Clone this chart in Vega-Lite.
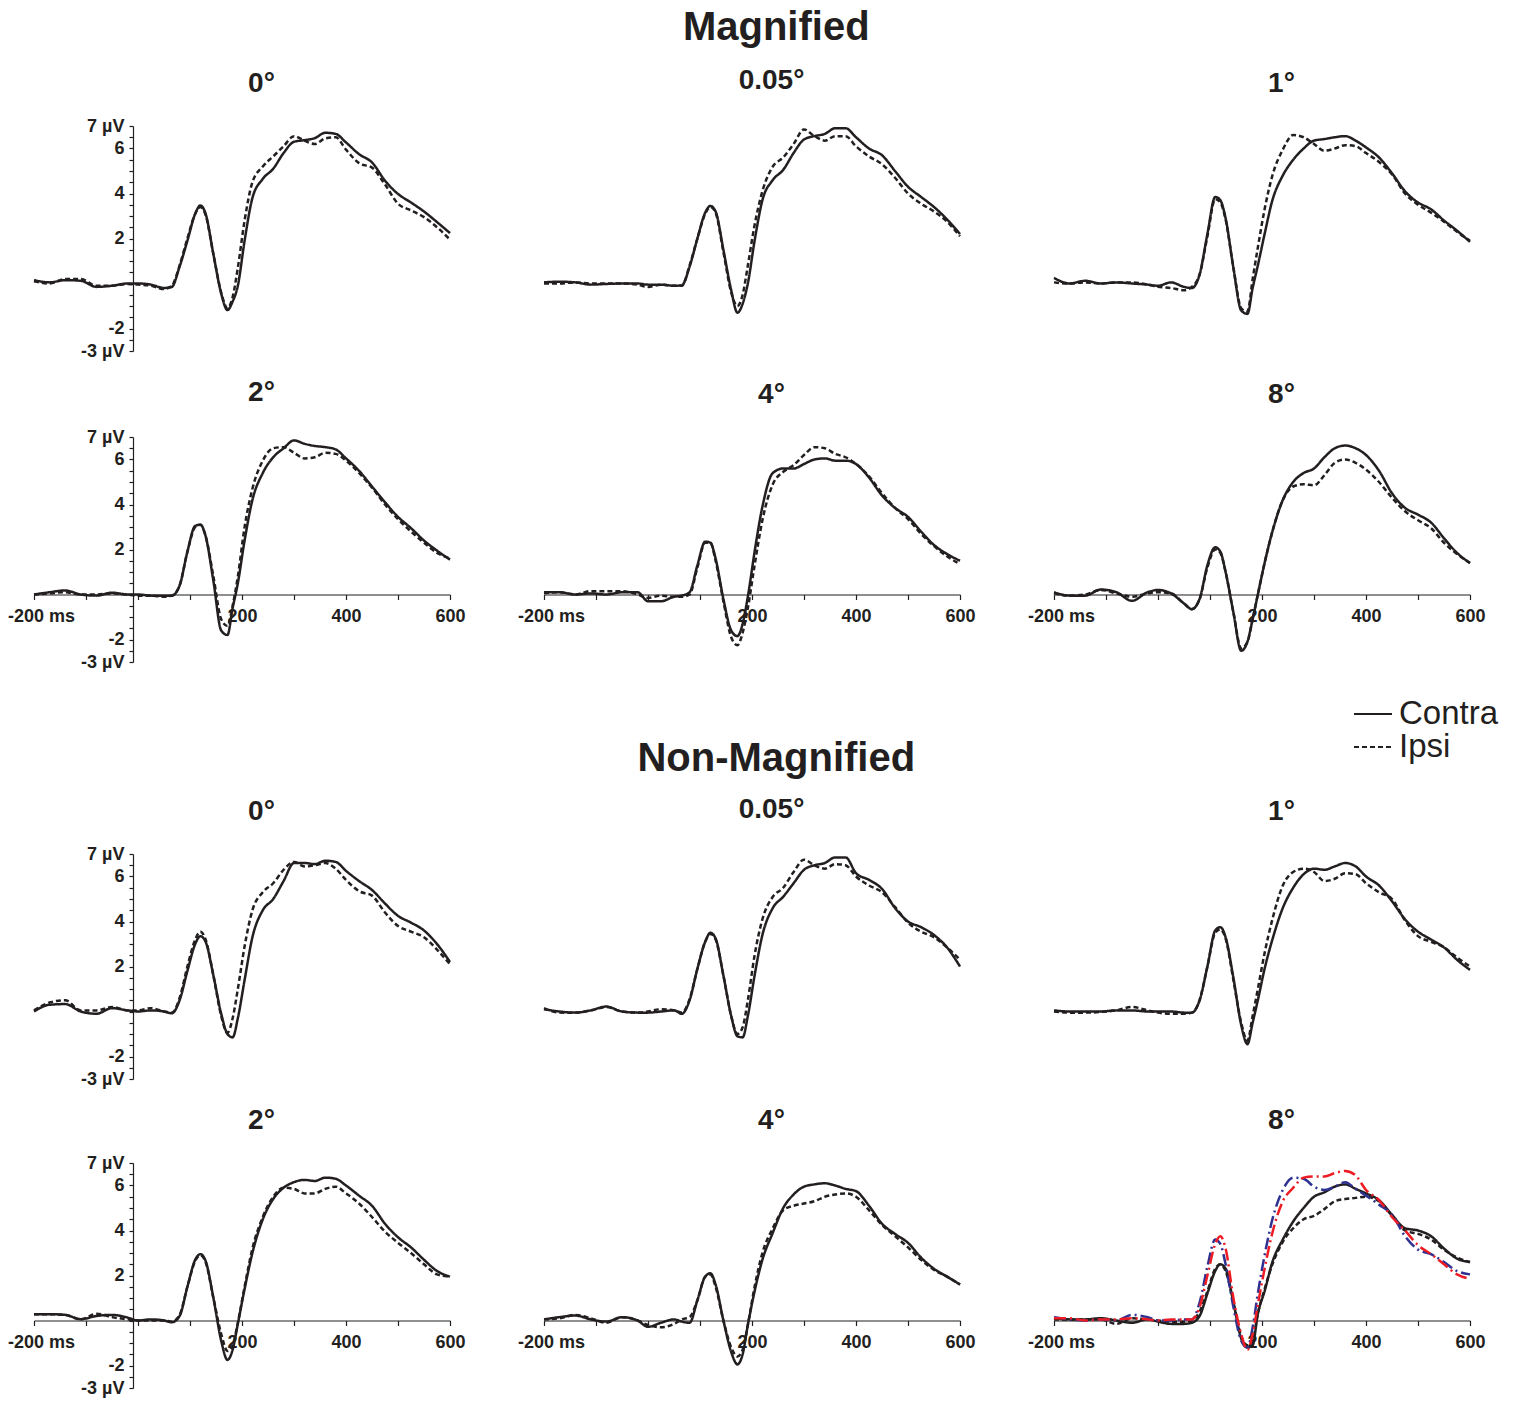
{
"$schema": "https://vega.github.io/schema/vega-lite/v6.json",
"background": "white",
"padding": {"left": 7, "top": 8, "right": 2, "bottom": 2},
"spacing": 68,
"config": {"view": {"stroke": null}, "font": "Liberation Sans"},
"data": {"values": [
{"s":"M","p":"0°","t":-200,"Contra":0.15,"Ipsi":0.1},{"s":"M","p":"0°","t":-170,"Contra":0.05,"Ipsi":0.0},{"s":"M","p":"0°","t":-140,"Contra":0.15,"Ipsi":0.2},{"s":"M","p":"0°","t":-110,"Contra":0.12,"Ipsi":0.2},{"s":"M","p":"0°","t":-80,"Contra":-0.15,"Ipsi":-0.1},{"s":"M","p":"0°","t":-50,"Contra":-0.1,"Ipsi":-0.1},{"s":"M","p":"0°","t":-20,"Contra":0.0,"Ipsi":-0.02},{"s":"M","p":"0°","t":0,"Contra":0.0,"Ipsi":-0.05},{"s":"M","p":"0°","t":25,"Contra":-0.05,"Ipsi":-0.1},{"s":"M","p":"0°","t":50,"Contra":-0.2,"Ipsi":-0.25},{"s":"M","p":"0°","t":65,"Contra":-0.15,"Ipsi":-0.1},{"s":"M","p":"0°","t":80,"Contra":0.75,"Ipsi":0.8},{"s":"M","p":"0°","t":95,"Contra":1.9,"Ipsi":2.0},{"s":"M","p":"0°","t":110,"Contra":3.1,"Ipsi":3.1},{"s":"M","p":"0°","t":120,"Contra":3.47,"Ipsi":3.4},{"s":"M","p":"0°","t":130,"Contra":3.1,"Ipsi":3.05},{"s":"M","p":"0°","t":145,"Contra":1.3,"Ipsi":1.3},{"s":"M","p":"0°","t":160,"Contra":-0.45,"Ipsi":-0.4},{"s":"M","p":"0°","t":172,"Contra":-1.18,"Ipsi":-1.1},{"s":"M","p":"0°","t":182,"Contra":-0.8,"Ipsi":-0.6},{"s":"M","p":"0°","t":192,"Contra":-0.1,"Ipsi":0.7},{"s":"M","p":"0°","t":205,"Contra":1.9,"Ipsi":2.8},{"s":"M","p":"0°","t":220,"Contra":3.8,"Ipsi":4.5},{"s":"M","p":"0°","t":240,"Contra":4.65,"Ipsi":5.2},{"s":"M","p":"0°","t":260,"Contra":5.1,"Ipsi":5.65},{"s":"M","p":"0°","t":280,"Contra":5.8,"Ipsi":6.1},{"s":"M","p":"0°","t":300,"Contra":6.3,"Ipsi":6.55},{"s":"M","p":"0°","t":320,"Contra":6.37,"Ipsi":6.35},{"s":"M","p":"0°","t":340,"Contra":6.46,"Ipsi":6.2},{"s":"M","p":"0°","t":360,"Contra":6.7,"Ipsi":6.45},{"s":"M","p":"0°","t":380,"Contra":6.65,"Ipsi":6.5},{"s":"M","p":"0°","t":400,"Contra":6.27,"Ipsi":5.95},{"s":"M","p":"0°","t":425,"Contra":5.75,"Ipsi":5.35},{"s":"M","p":"0°","t":450,"Contra":5.38,"Ipsi":5.15},{"s":"M","p":"0°","t":475,"Contra":4.57,"Ipsi":4.4},{"s":"M","p":"0°","t":500,"Contra":3.98,"Ipsi":3.55},{"s":"M","p":"0°","t":525,"Contra":3.6,"Ipsi":3.25},{"s":"M","p":"0°","t":550,"Contra":3.2,"Ipsi":2.95},{"s":"M","p":"0°","t":575,"Contra":2.73,"Ipsi":2.5},{"s":"M","p":"0°","t":600,"Contra":2.24,"Ipsi":1.95},
{"s":"M","p":"0.05°","t":-200,"Contra":0.05,"Ipsi":0.0},{"s":"M","p":"0.05°","t":-170,"Contra":0.08,"Ipsi":0.0},{"s":"M","p":"0.05°","t":-140,"Contra":0.05,"Ipsi":0.05},{"s":"M","p":"0.05°","t":-110,"Contra":-0.05,"Ipsi":0.0},{"s":"M","p":"0.05°","t":-80,"Contra":-0.02,"Ipsi":0.0},{"s":"M","p":"0.05°","t":-50,"Contra":0.0,"Ipsi":0.0},{"s":"M","p":"0.05°","t":-20,"Contra":0.0,"Ipsi":-0.05},{"s":"M","p":"0.05°","t":0,"Contra":-0.05,"Ipsi":-0.15},{"s":"M","p":"0.05°","t":25,"Contra":-0.05,"Ipsi":-0.05},{"s":"M","p":"0.05°","t":50,"Contra":-0.1,"Ipsi":-0.1},{"s":"M","p":"0.05°","t":65,"Contra":-0.08,"Ipsi":-0.1},{"s":"M","p":"0.05°","t":80,"Contra":0.75,"Ipsi":0.8},{"s":"M","p":"0.05°","t":95,"Contra":2.0,"Ipsi":2.0},{"s":"M","p":"0.05°","t":110,"Contra":3.15,"Ipsi":3.1},{"s":"M","p":"0.05°","t":120,"Contra":3.45,"Ipsi":3.4},{"s":"M","p":"0.05°","t":130,"Contra":3.2,"Ipsi":3.15},{"s":"M","p":"0.05°","t":145,"Contra":1.5,"Ipsi":1.4},{"s":"M","p":"0.05°","t":160,"Contra":-0.3,"Ipsi":-0.4},{"s":"M","p":"0.05°","t":172,"Contra":-1.3,"Ipsi":-1.0},{"s":"M","p":"0.05°","t":182,"Contra":-0.9,"Ipsi":-0.5},{"s":"M","p":"0.05°","t":192,"Contra":0.0,"Ipsi":0.8},{"s":"M","p":"0.05°","t":205,"Contra":1.9,"Ipsi":2.6},{"s":"M","p":"0.05°","t":220,"Contra":3.7,"Ipsi":4.1},{"s":"M","p":"0.05°","t":240,"Contra":4.6,"Ipsi":5.2},{"s":"M","p":"0.05°","t":260,"Contra":5.05,"Ipsi":5.6},{"s":"M","p":"0.05°","t":280,"Contra":5.8,"Ipsi":6.2},{"s":"M","p":"0.05°","t":300,"Contra":6.4,"Ipsi":6.85},{"s":"M","p":"0.05°","t":320,"Contra":6.55,"Ipsi":6.55},{"s":"M","p":"0.05°","t":340,"Contra":6.65,"Ipsi":6.35},{"s":"M","p":"0.05°","t":360,"Contra":6.9,"Ipsi":6.55},{"s":"M","p":"0.05°","t":380,"Contra":6.9,"Ipsi":6.55},{"s":"M","p":"0.05°","t":400,"Contra":6.5,"Ipsi":6.1},{"s":"M","p":"0.05°","t":425,"Contra":6.0,"Ipsi":5.65},{"s":"M","p":"0.05°","t":450,"Contra":5.7,"Ipsi":5.3},{"s":"M","p":"0.05°","t":475,"Contra":5.0,"Ipsi":4.7},{"s":"M","p":"0.05°","t":500,"Contra":4.3,"Ipsi":4.0},{"s":"M","p":"0.05°","t":525,"Contra":3.85,"Ipsi":3.55},{"s":"M","p":"0.05°","t":550,"Contra":3.4,"Ipsi":3.2},{"s":"M","p":"0.05°","t":575,"Contra":2.85,"Ipsi":2.75},{"s":"M","p":"0.05°","t":600,"Contra":2.2,"Ipsi":2.1},
{"s":"M","p":"1°","t":-200,"Contra":0.25,"Ipsi":0.05},{"s":"M","p":"1°","t":-170,"Contra":0.0,"Ipsi":0.0},{"s":"M","p":"1°","t":-140,"Contra":0.12,"Ipsi":0.05},{"s":"M","p":"1°","t":-110,"Contra":0.0,"Ipsi":0.0},{"s":"M","p":"1°","t":-80,"Contra":0.05,"Ipsi":0.05},{"s":"M","p":"1°","t":-50,"Contra":0.0,"Ipsi":0.05},{"s":"M","p":"1°","t":-20,"Contra":-0.05,"Ipsi":-0.05},{"s":"M","p":"1°","t":0,"Contra":-0.1,"Ipsi":-0.15},{"s":"M","p":"1°","t":25,"Contra":0.05,"Ipsi":-0.2},{"s":"M","p":"1°","t":50,"Contra":-0.15,"Ipsi":-0.3},{"s":"M","p":"1°","t":65,"Contra":-0.2,"Ipsi":-0.15},{"s":"M","p":"1°","t":80,"Contra":0.4,"Ipsi":0.4},{"s":"M","p":"1°","t":95,"Contra":2.2,"Ipsi":2.1},{"s":"M","p":"1°","t":110,"Contra":3.85,"Ipsi":3.75},{"s":"M","p":"1°","t":120,"Contra":3.7,"Ipsi":3.6},{"s":"M","p":"1°","t":130,"Contra":2.9,"Ipsi":2.85},{"s":"M","p":"1°","t":145,"Contra":0.7,"Ipsi":0.7},{"s":"M","p":"1°","t":160,"Contra":-1.2,"Ipsi":-1.1},{"s":"M","p":"1°","t":172,"Contra":-1.35,"Ipsi":-1.25},{"s":"M","p":"1°","t":182,"Contra":-0.2,"Ipsi":0.2},{"s":"M","p":"1°","t":192,"Contra":0.8,"Ipsi":1.6},{"s":"M","p":"1°","t":205,"Contra":2.2,"Ipsi":3.3},{"s":"M","p":"1°","t":220,"Contra":3.7,"Ipsi":4.8},{"s":"M","p":"1°","t":240,"Contra":4.8,"Ipsi":5.95},{"s":"M","p":"1°","t":260,"Contra":5.5,"Ipsi":6.6},{"s":"M","p":"1°","t":280,"Contra":6.0,"Ipsi":6.5},{"s":"M","p":"1°","t":300,"Contra":6.35,"Ipsi":6.2},{"s":"M","p":"1°","t":320,"Contra":6.42,"Ipsi":5.9},{"s":"M","p":"1°","t":340,"Contra":6.5,"Ipsi":6.0},{"s":"M","p":"1°","t":360,"Contra":6.55,"Ipsi":6.15},{"s":"M","p":"1°","t":380,"Contra":6.35,"Ipsi":6.1},{"s":"M","p":"1°","t":400,"Contra":6.05,"Ipsi":5.8},{"s":"M","p":"1°","t":425,"Contra":5.6,"Ipsi":5.4},{"s":"M","p":"1°","t":450,"Contra":4.9,"Ipsi":4.85},{"s":"M","p":"1°","t":475,"Contra":4.1,"Ipsi":4.0},{"s":"M","p":"1°","t":500,"Contra":3.6,"Ipsi":3.5},{"s":"M","p":"1°","t":525,"Contra":3.3,"Ipsi":3.15},{"s":"M","p":"1°","t":550,"Contra":2.8,"Ipsi":2.75},{"s":"M","p":"1°","t":575,"Contra":2.35,"Ipsi":2.3},{"s":"M","p":"1°","t":600,"Contra":1.85,"Ipsi":1.9},
{"s":"M","p":"2°","t":-200,"Contra":0.0,"Ipsi":0.0},{"s":"M","p":"2°","t":-170,"Contra":0.1,"Ipsi":0.05},{"s":"M","p":"2°","t":-140,"Contra":0.18,"Ipsi":0.1},{"s":"M","p":"2°","t":-110,"Contra":0.0,"Ipsi":0.0},{"s":"M","p":"2°","t":-80,"Contra":-0.05,"Ipsi":0.0},{"s":"M","p":"2°","t":-50,"Contra":0.08,"Ipsi":0.05},{"s":"M","p":"2°","t":-20,"Contra":0.0,"Ipsi":0.0},{"s":"M","p":"2°","t":0,"Contra":0.0,"Ipsi":-0.05},{"s":"M","p":"2°","t":25,"Contra":-0.05,"Ipsi":-0.05},{"s":"M","p":"2°","t":50,"Contra":-0.05,"Ipsi":-0.1},{"s":"M","p":"2°","t":65,"Contra":-0.05,"Ipsi":-0.05},{"s":"M","p":"2°","t":80,"Contra":0.4,"Ipsi":0.4},{"s":"M","p":"2°","t":95,"Contra":1.9,"Ipsi":1.9},{"s":"M","p":"2°","t":110,"Contra":3.05,"Ipsi":3.0},{"s":"M","p":"2°","t":120,"Contra":3.1,"Ipsi":3.1},{"s":"M","p":"2°","t":130,"Contra":2.6,"Ipsi":2.6},{"s":"M","p":"2°","t":145,"Contra":0.6,"Ipsi":0.8},{"s":"M","p":"2°","t":160,"Contra":-1.6,"Ipsi":-1.1},{"s":"M","p":"2°","t":172,"Contra":-1.8,"Ipsi":-1.4},{"s":"M","p":"2°","t":182,"Contra":-0.6,"Ipsi":-0.5},{"s":"M","p":"2°","t":192,"Contra":0.5,"Ipsi":0.8},{"s":"M","p":"2°","t":205,"Contra":2.4,"Ipsi":3.0},{"s":"M","p":"2°","t":220,"Contra":4.2,"Ipsi":4.7},{"s":"M","p":"2°","t":240,"Contra":5.4,"Ipsi":5.95},{"s":"M","p":"2°","t":260,"Contra":6.1,"Ipsi":6.5},{"s":"M","p":"2°","t":280,"Contra":6.5,"Ipsi":6.55},{"s":"M","p":"2°","t":300,"Contra":6.85,"Ipsi":6.3},{"s":"M","p":"2°","t":320,"Contra":6.7,"Ipsi":6.05},{"s":"M","p":"2°","t":340,"Contra":6.6,"Ipsi":6.1},{"s":"M","p":"2°","t":360,"Contra":6.55,"Ipsi":6.3},{"s":"M","p":"2°","t":380,"Contra":6.45,"Ipsi":6.25},{"s":"M","p":"2°","t":400,"Contra":6.05,"Ipsi":5.95},{"s":"M","p":"2°","t":425,"Contra":5.5,"Ipsi":5.4},{"s":"M","p":"2°","t":450,"Contra":4.8,"Ipsi":4.75},{"s":"M","p":"2°","t":475,"Contra":4.1,"Ipsi":4.0},{"s":"M","p":"2°","t":500,"Contra":3.45,"Ipsi":3.35},{"s":"M","p":"2°","t":525,"Contra":2.95,"Ipsi":2.8},{"s":"M","p":"2°","t":550,"Contra":2.4,"Ipsi":2.3},{"s":"M","p":"2°","t":575,"Contra":1.95,"Ipsi":1.85},{"s":"M","p":"2°","t":600,"Contra":1.55,"Ipsi":1.6},
{"s":"M","p":"4°","t":-200,"Contra":0.1,"Ipsi":0.05},{"s":"M","p":"4°","t":-170,"Contra":0.1,"Ipsi":0.1},{"s":"M","p":"4°","t":-140,"Contra":0.0,"Ipsi":0.0},{"s":"M","p":"4°","t":-110,"Contra":0.05,"Ipsi":0.15},{"s":"M","p":"4°","t":-80,"Contra":0.0,"Ipsi":0.15},{"s":"M","p":"4°","t":-50,"Contra":0.1,"Ipsi":0.15},{"s":"M","p":"4°","t":-20,"Contra":0.1,"Ipsi":0.0},{"s":"M","p":"4°","t":0,"Contra":-0.3,"Ipsi":-0.15},{"s":"M","p":"4°","t":25,"Contra":-0.3,"Ipsi":-0.05},{"s":"M","p":"4°","t":50,"Contra":-0.1,"Ipsi":-0.1},{"s":"M","p":"4°","t":65,"Contra":-0.05,"Ipsi":-0.1},{"s":"M","p":"4°","t":80,"Contra":0.1,"Ipsi":0.0},{"s":"M","p":"4°","t":95,"Contra":1.3,"Ipsi":1.2},{"s":"M","p":"4°","t":110,"Contra":2.35,"Ipsi":2.3},{"s":"M","p":"4°","t":120,"Contra":2.3,"Ipsi":2.3},{"s":"M","p":"4°","t":130,"Contra":1.6,"Ipsi":1.5},{"s":"M","p":"4°","t":145,"Contra":-0.2,"Ipsi":-0.3},{"s":"M","p":"4°","t":160,"Contra":-1.6,"Ipsi":-1.9},{"s":"M","p":"4°","t":172,"Contra":-1.85,"Ipsi":-2.25},{"s":"M","p":"4°","t":182,"Contra":-1.3,"Ipsi":-1.7},{"s":"M","p":"4°","t":192,"Contra":-0.1,"Ipsi":-0.6},{"s":"M","p":"4°","t":205,"Contra":1.9,"Ipsi":1.3},{"s":"M","p":"4°","t":220,"Contra":3.9,"Ipsi":3.3},{"s":"M","p":"4°","t":240,"Contra":5.4,"Ipsi":4.9},{"s":"M","p":"4°","t":260,"Contra":5.6,"Ipsi":5.45},{"s":"M","p":"4°","t":280,"Contra":5.6,"Ipsi":5.75},{"s":"M","p":"4°","t":300,"Contra":5.8,"Ipsi":6.2},{"s":"M","p":"4°","t":320,"Contra":6.0,"Ipsi":6.55},{"s":"M","p":"4°","t":340,"Contra":6.05,"Ipsi":6.5},{"s":"M","p":"4°","t":360,"Contra":5.95,"Ipsi":6.25},{"s":"M","p":"4°","t":380,"Contra":5.95,"Ipsi":6.1},{"s":"M","p":"4°","t":400,"Contra":5.8,"Ipsi":5.8},{"s":"M","p":"4°","t":425,"Contra":5.2,"Ipsi":5.25},{"s":"M","p":"4°","t":450,"Contra":4.4,"Ipsi":4.5},{"s":"M","p":"4°","t":475,"Contra":3.85,"Ipsi":3.85},{"s":"M","p":"4°","t":500,"Contra":3.45,"Ipsi":3.35},{"s":"M","p":"4°","t":525,"Contra":2.8,"Ipsi":2.7},{"s":"M","p":"4°","t":550,"Contra":2.2,"Ipsi":2.15},{"s":"M","p":"4°","t":575,"Contra":1.8,"Ipsi":1.7},{"s":"M","p":"4°","t":600,"Contra":1.5,"Ipsi":1.35},
{"s":"M","p":"8°","t":-200,"Contra":0.1,"Ipsi":0.05},{"s":"M","p":"8°","t":-170,"Contra":-0.05,"Ipsi":-0.05},{"s":"M","p":"8°","t":-140,"Contra":-0.05,"Ipsi":0.0},{"s":"M","p":"8°","t":-110,"Contra":0.22,"Ipsi":0.2},{"s":"M","p":"8°","t":-80,"Contra":0.1,"Ipsi":0.05},{"s":"M","p":"8°","t":-50,"Contra":-0.28,"Ipsi":-0.1},{"s":"M","p":"8°","t":-20,"Contra":0.1,"Ipsi":0.05},{"s":"M","p":"8°","t":0,"Contra":0.2,"Ipsi":0.1},{"s":"M","p":"8°","t":25,"Contra":0.05,"Ipsi":0.05},{"s":"M","p":"8°","t":50,"Contra":-0.4,"Ipsi":-0.4},{"s":"M","p":"8°","t":65,"Contra":-0.65,"Ipsi":-0.65},{"s":"M","p":"8°","t":80,"Contra":-0.2,"Ipsi":-0.2},{"s":"M","p":"8°","t":95,"Contra":1.3,"Ipsi":1.2},{"s":"M","p":"8°","t":110,"Contra":2.1,"Ipsi":2.0},{"s":"M","p":"8°","t":120,"Contra":1.9,"Ipsi":1.85},{"s":"M","p":"8°","t":130,"Contra":1.0,"Ipsi":1.0},{"s":"M","p":"8°","t":145,"Contra":-0.8,"Ipsi":-0.8},{"s":"M","p":"8°","t":160,"Contra":-2.5,"Ipsi":-2.4},{"s":"M","p":"8°","t":172,"Contra":-2.1,"Ipsi":-2.1},{"s":"M","p":"8°","t":182,"Contra":-1.1,"Ipsi":-1.1},{"s":"M","p":"8°","t":192,"Contra":0.0,"Ipsi":0.0},{"s":"M","p":"8°","t":205,"Contra":1.4,"Ipsi":1.4},{"s":"M","p":"8°","t":220,"Contra":2.8,"Ipsi":2.8},{"s":"M","p":"8°","t":240,"Contra":4.2,"Ipsi":4.2},{"s":"M","p":"8°","t":260,"Contra":5.0,"Ipsi":4.8},{"s":"M","p":"8°","t":280,"Contra":5.4,"Ipsi":4.9},{"s":"M","p":"8°","t":300,"Contra":5.6,"Ipsi":4.85},{"s":"M","p":"8°","t":320,"Contra":6.1,"Ipsi":5.3},{"s":"M","p":"8°","t":340,"Contra":6.5,"Ipsi":5.85},{"s":"M","p":"8°","t":360,"Contra":6.62,"Ipsi":6.0},{"s":"M","p":"8°","t":380,"Contra":6.5,"Ipsi":5.85},{"s":"M","p":"8°","t":400,"Contra":6.2,"Ipsi":5.55},{"s":"M","p":"8°","t":425,"Contra":5.5,"Ipsi":5.0},{"s":"M","p":"8°","t":450,"Contra":4.5,"Ipsi":4.3},{"s":"M","p":"8°","t":475,"Contra":3.85,"Ipsi":3.7},{"s":"M","p":"8°","t":500,"Contra":3.55,"Ipsi":3.3},{"s":"M","p":"8°","t":525,"Contra":3.2,"Ipsi":2.95},{"s":"M","p":"8°","t":550,"Contra":2.5,"Ipsi":2.3},{"s":"M","p":"8°","t":575,"Contra":1.85,"Ipsi":1.8},{"s":"M","p":"8°","t":600,"Contra":1.4,"Ipsi":1.4},
{"s":"NM","p":"0°","t":-200,"Contra":0.0,"Ipsi":0.05},{"s":"NM","p":"0°","t":-170,"Contra":0.3,"Ipsi":0.4},{"s":"NM","p":"0°","t":-140,"Contra":0.33,"Ipsi":0.5},{"s":"NM","p":"0°","t":-110,"Contra":0.0,"Ipsi":0.05},{"s":"NM","p":"0°","t":-80,"Contra":-0.1,"Ipsi":0.05},{"s":"NM","p":"0°","t":-50,"Contra":0.15,"Ipsi":0.2},{"s":"NM","p":"0°","t":-20,"Contra":0.05,"Ipsi":0.05},{"s":"NM","p":"0°","t":0,"Contra":0.0,"Ipsi":0.05},{"s":"NM","p":"0°","t":25,"Contra":0.05,"Ipsi":0.15},{"s":"NM","p":"0°","t":50,"Contra":0.0,"Ipsi":0.0},{"s":"NM","p":"0°","t":65,"Contra":-0.08,"Ipsi":-0.05},{"s":"NM","p":"0°","t":80,"Contra":0.5,"Ipsi":0.6},{"s":"NM","p":"0°","t":95,"Contra":1.8,"Ipsi":2.0},{"s":"NM","p":"0°","t":110,"Contra":3.0,"Ipsi":3.2},{"s":"NM","p":"0°","t":120,"Contra":3.35,"Ipsi":3.55},{"s":"NM","p":"0°","t":130,"Contra":3.1,"Ipsi":3.2},{"s":"NM","p":"0°","t":145,"Contra":1.6,"Ipsi":1.6},{"s":"NM","p":"0°","t":160,"Contra":-0.1,"Ipsi":-0.2},{"s":"NM","p":"0°","t":172,"Contra":-1.0,"Ipsi":-0.95},{"s":"NM","p":"0°","t":182,"Contra":-1.15,"Ipsi":-0.3},{"s":"NM","p":"0°","t":192,"Contra":-0.3,"Ipsi":1.0},{"s":"NM","p":"0°","t":205,"Contra":1.4,"Ipsi":2.9},{"s":"NM","p":"0°","t":220,"Contra":3.3,"Ipsi":4.5},{"s":"NM","p":"0°","t":240,"Contra":4.5,"Ipsi":5.3},{"s":"NM","p":"0°","t":260,"Contra":5.0,"Ipsi":5.7},{"s":"NM","p":"0°","t":280,"Contra":5.8,"Ipsi":6.3},{"s":"NM","p":"0°","t":300,"Contra":6.6,"Ipsi":6.65},{"s":"NM","p":"0°","t":320,"Contra":6.6,"Ipsi":6.45},{"s":"NM","p":"0°","t":340,"Contra":6.55,"Ipsi":6.5},{"s":"NM","p":"0°","t":360,"Contra":6.7,"Ipsi":6.6},{"s":"NM","p":"0°","t":380,"Contra":6.65,"Ipsi":6.35},{"s":"NM","p":"0°","t":400,"Contra":6.25,"Ipsi":5.85},{"s":"NM","p":"0°","t":425,"Contra":5.8,"Ipsi":5.35},{"s":"NM","p":"0°","t":450,"Contra":5.4,"Ipsi":5.15},{"s":"NM","p":"0°","t":475,"Contra":4.8,"Ipsi":4.4},{"s":"NM","p":"0°","t":500,"Contra":4.25,"Ipsi":3.8},{"s":"NM","p":"0°","t":525,"Contra":3.95,"Ipsi":3.55},{"s":"NM","p":"0°","t":550,"Contra":3.6,"Ipsi":3.3},{"s":"NM","p":"0°","t":575,"Contra":3.0,"Ipsi":2.75},{"s":"NM","p":"0°","t":600,"Contra":2.2,"Ipsi":2.1},
{"s":"NM","p":"0.05°","t":-200,"Contra":0.1,"Ipsi":0.15},{"s":"NM","p":"0.05°","t":-170,"Contra":0.0,"Ipsi":-0.05},{"s":"NM","p":"0.05°","t":-140,"Contra":-0.05,"Ipsi":-0.05},{"s":"NM","p":"0.05°","t":-110,"Contra":0.05,"Ipsi":0.05},{"s":"NM","p":"0.05°","t":-80,"Contra":0.22,"Ipsi":0.2},{"s":"NM","p":"0.05°","t":-50,"Contra":0.0,"Ipsi":0.0},{"s":"NM","p":"0.05°","t":-20,"Contra":-0.05,"Ipsi":-0.05},{"s":"NM","p":"0.05°","t":0,"Contra":-0.05,"Ipsi":0.0},{"s":"NM","p":"0.05°","t":25,"Contra":0.0,"Ipsi":0.1},{"s":"NM","p":"0.05°","t":50,"Contra":0.05,"Ipsi":0.05},{"s":"NM","p":"0.05°","t":65,"Contra":-0.1,"Ipsi":-0.05},{"s":"NM","p":"0.05°","t":80,"Contra":0.5,"Ipsi":0.55},{"s":"NM","p":"0.05°","t":95,"Contra":1.9,"Ipsi":1.9},{"s":"NM","p":"0.05°","t":110,"Contra":3.1,"Ipsi":3.1},{"s":"NM","p":"0.05°","t":120,"Contra":3.5,"Ipsi":3.45},{"s":"NM","p":"0.05°","t":130,"Contra":3.25,"Ipsi":3.2},{"s":"NM","p":"0.05°","t":145,"Contra":1.6,"Ipsi":1.6},{"s":"NM","p":"0.05°","t":160,"Contra":-0.2,"Ipsi":-0.2},{"s":"NM","p":"0.05°","t":172,"Contra":-1.1,"Ipsi":-1.0},{"s":"NM","p":"0.05°","t":182,"Contra":-1.15,"Ipsi":-0.7},{"s":"NM","p":"0.05°","t":192,"Contra":-0.2,"Ipsi":0.5},{"s":"NM","p":"0.05°","t":205,"Contra":1.6,"Ipsi":2.5},{"s":"NM","p":"0.05°","t":220,"Contra":3.4,"Ipsi":4.1},{"s":"NM","p":"0.05°","t":240,"Contra":4.6,"Ipsi":5.1},{"s":"NM","p":"0.05°","t":260,"Contra":5.1,"Ipsi":5.5},{"s":"NM","p":"0.05°","t":280,"Contra":5.7,"Ipsi":6.2},{"s":"NM","p":"0.05°","t":300,"Contra":6.3,"Ipsi":6.75},{"s":"NM","p":"0.05°","t":320,"Contra":6.5,"Ipsi":6.5},{"s":"NM","p":"0.05°","t":340,"Contra":6.6,"Ipsi":6.35},{"s":"NM","p":"0.05°","t":360,"Contra":6.85,"Ipsi":6.55},{"s":"NM","p":"0.05°","t":380,"Contra":6.85,"Ipsi":6.5},{"s":"NM","p":"0.05°","t":400,"Contra":6.15,"Ipsi":6.0},{"s":"NM","p":"0.05°","t":425,"Contra":5.85,"Ipsi":5.6},{"s":"NM","p":"0.05°","t":450,"Contra":5.45,"Ipsi":5.3},{"s":"NM","p":"0.05°","t":475,"Contra":4.6,"Ipsi":4.65},{"s":"NM","p":"0.05°","t":500,"Contra":4.0,"Ipsi":3.95},{"s":"NM","p":"0.05°","t":525,"Contra":3.75,"Ipsi":3.55},{"s":"NM","p":"0.05°","t":550,"Contra":3.4,"Ipsi":3.3},{"s":"NM","p":"0.05°","t":575,"Contra":2.85,"Ipsi":2.85},{"s":"NM","p":"0.05°","t":600,"Contra":2.0,"Ipsi":2.3},
{"s":"NM","p":"1°","t":-200,"Contra":0.05,"Ipsi":0.0},{"s":"NM","p":"1°","t":-170,"Contra":0.0,"Ipsi":-0.05},{"s":"NM","p":"1°","t":-140,"Contra":0.0,"Ipsi":-0.05},{"s":"NM","p":"1°","t":-110,"Contra":0.0,"Ipsi":-0.02},{"s":"NM","p":"1°","t":-80,"Contra":0.05,"Ipsi":0.05},{"s":"NM","p":"1°","t":-50,"Contra":0.05,"Ipsi":0.2},{"s":"NM","p":"1°","t":-20,"Contra":0.0,"Ipsi":0.05},{"s":"NM","p":"1°","t":0,"Contra":0.0,"Ipsi":-0.05},{"s":"NM","p":"1°","t":25,"Contra":0.0,"Ipsi":-0.1},{"s":"NM","p":"1°","t":50,"Contra":-0.05,"Ipsi":-0.1},{"s":"NM","p":"1°","t":65,"Contra":-0.05,"Ipsi":-0.05},{"s":"NM","p":"1°","t":80,"Contra":0.5,"Ipsi":0.5},{"s":"NM","p":"1°","t":95,"Contra":2.0,"Ipsi":2.0},{"s":"NM","p":"1°","t":110,"Contra":3.6,"Ipsi":3.5},{"s":"NM","p":"1°","t":120,"Contra":3.75,"Ipsi":3.65},{"s":"NM","p":"1°","t":130,"Contra":3.3,"Ipsi":3.25},{"s":"NM","p":"1°","t":145,"Contra":1.5,"Ipsi":1.4},{"s":"NM","p":"1°","t":160,"Contra":-0.6,"Ipsi":-0.5},{"s":"NM","p":"1°","t":172,"Contra":-1.45,"Ipsi":-1.3},{"s":"NM","p":"1°","t":182,"Contra":-0.5,"Ipsi":-0.2},{"s":"NM","p":"1°","t":192,"Contra":0.5,"Ipsi":1.0},{"s":"NM","p":"1°","t":205,"Contra":1.9,"Ipsi":2.6},{"s":"NM","p":"1°","t":220,"Contra":3.2,"Ipsi":4.1},{"s":"NM","p":"1°","t":240,"Contra":4.6,"Ipsi":5.6},{"s":"NM","p":"1°","t":260,"Contra":5.5,"Ipsi":6.2},{"s":"NM","p":"1°","t":280,"Contra":6.1,"Ipsi":6.35},{"s":"NM","p":"1°","t":300,"Contra":6.35,"Ipsi":6.2},{"s":"NM","p":"1°","t":320,"Contra":6.3,"Ipsi":5.8},{"s":"NM","p":"1°","t":340,"Contra":6.45,"Ipsi":5.9},{"s":"NM","p":"1°","t":360,"Contra":6.6,"Ipsi":6.15},{"s":"NM","p":"1°","t":380,"Contra":6.45,"Ipsi":6.1},{"s":"NM","p":"1°","t":400,"Contra":6.0,"Ipsi":5.7},{"s":"NM","p":"1°","t":425,"Contra":5.6,"Ipsi":5.3},{"s":"NM","p":"1°","t":450,"Contra":4.9,"Ipsi":5.0},{"s":"NM","p":"1°","t":475,"Contra":4.1,"Ipsi":4.05},{"s":"NM","p":"1°","t":500,"Contra":3.55,"Ipsi":3.35},{"s":"NM","p":"1°","t":525,"Contra":3.2,"Ipsi":3.1},{"s":"NM","p":"1°","t":550,"Contra":2.85,"Ipsi":2.85},{"s":"NM","p":"1°","t":575,"Contra":2.3,"Ipsi":2.4},{"s":"NM","p":"1°","t":600,"Contra":1.85,"Ipsi":2.0},
{"s":"NM","p":"2°","t":-200,"Contra":0.28,"Ipsi":0.28},{"s":"NM","p":"2°","t":-170,"Contra":0.28,"Ipsi":0.28},{"s":"NM","p":"2°","t":-140,"Contra":0.25,"Ipsi":0.25},{"s":"NM","p":"2°","t":-110,"Contra":0.06,"Ipsi":0.05},{"s":"NM","p":"2°","t":-80,"Contra":0.2,"Ipsi":0.3},{"s":"NM","p":"2°","t":-50,"Contra":0.25,"Ipsi":0.15},{"s":"NM","p":"2°","t":-20,"Contra":0.13,"Ipsi":0.05},{"s":"NM","p":"2°","t":0,"Contra":0.0,"Ipsi":0.0},{"s":"NM","p":"2°","t":25,"Contra":0.05,"Ipsi":0.0},{"s":"NM","p":"2°","t":50,"Contra":0.0,"Ipsi":0.0},{"s":"NM","p":"2°","t":65,"Contra":-0.08,"Ipsi":-0.05},{"s":"NM","p":"2°","t":80,"Contra":0.2,"Ipsi":0.25},{"s":"NM","p":"2°","t":95,"Contra":1.5,"Ipsi":1.5},{"s":"NM","p":"2°","t":110,"Contra":2.7,"Ipsi":2.65},{"s":"NM","p":"2°","t":120,"Contra":2.95,"Ipsi":2.9},{"s":"NM","p":"2°","t":130,"Contra":2.65,"Ipsi":2.6},{"s":"NM","p":"2°","t":145,"Contra":1.0,"Ipsi":1.0},{"s":"NM","p":"2°","t":160,"Contra":-0.9,"Ipsi":-0.6},{"s":"NM","p":"2°","t":172,"Contra":-1.75,"Ipsi":-1.35},{"s":"NM","p":"2°","t":182,"Contra":-1.3,"Ipsi":-1.1},{"s":"NM","p":"2°","t":192,"Contra":-0.15,"Ipsi":-0.1},{"s":"NM","p":"2°","t":205,"Contra":1.4,"Ipsi":1.5},{"s":"NM","p":"2°","t":220,"Contra":3.0,"Ipsi":3.2},{"s":"NM","p":"2°","t":240,"Contra":4.5,"Ipsi":4.6},{"s":"NM","p":"2°","t":260,"Contra":5.4,"Ipsi":5.5},{"s":"NM","p":"2°","t":280,"Contra":5.9,"Ipsi":5.9},{"s":"NM","p":"2°","t":300,"Contra":6.15,"Ipsi":5.85},{"s":"NM","p":"2°","t":320,"Contra":6.25,"Ipsi":5.65},{"s":"NM","p":"2°","t":340,"Contra":6.2,"Ipsi":5.65},{"s":"NM","p":"2°","t":360,"Contra":6.35,"Ipsi":5.85},{"s":"NM","p":"2°","t":380,"Contra":6.3,"Ipsi":5.95},{"s":"NM","p":"2°","t":400,"Contra":6.0,"Ipsi":5.65},{"s":"NM","p":"2°","t":425,"Contra":5.55,"Ipsi":5.2},{"s":"NM","p":"2°","t":450,"Contra":5.1,"Ipsi":4.6},{"s":"NM","p":"2°","t":475,"Contra":4.3,"Ipsi":3.95},{"s":"NM","p":"2°","t":500,"Contra":3.7,"Ipsi":3.45},{"s":"NM","p":"2°","t":525,"Contra":3.25,"Ipsi":3.0},{"s":"NM","p":"2°","t":550,"Contra":2.7,"Ipsi":2.5},{"s":"NM","p":"2°","t":575,"Contra":2.2,"Ipsi":2.05},{"s":"NM","p":"2°","t":600,"Contra":1.95,"Ipsi":1.95},
{"s":"NM","p":"4°","t":-200,"Contra":0.05,"Ipsi":0.05},{"s":"NM","p":"4°","t":-170,"Contra":0.15,"Ipsi":0.1},{"s":"NM","p":"4°","t":-140,"Contra":0.22,"Ipsi":0.25},{"s":"NM","p":"4°","t":-110,"Contra":0.05,"Ipsi":0.1},{"s":"NM","p":"4°","t":-80,"Contra":-0.05,"Ipsi":-0.1},{"s":"NM","p":"4°","t":-50,"Contra":0.15,"Ipsi":0.15},{"s":"NM","p":"4°","t":-20,"Contra":0.0,"Ipsi":0.0},{"s":"NM","p":"4°","t":0,"Contra":-0.28,"Ipsi":-0.2},{"s":"NM","p":"4°","t":25,"Contra":-0.1,"Ipsi":-0.3},{"s":"NM","p":"4°","t":50,"Contra":0.05,"Ipsi":-0.15},{"s":"NM","p":"4°","t":65,"Contra":-0.05,"Ipsi":0.05},{"s":"NM","p":"4°","t":80,"Contra":-0.1,"Ipsi":0.15},{"s":"NM","p":"4°","t":95,"Contra":0.9,"Ipsi":0.9},{"s":"NM","p":"4°","t":110,"Contra":1.95,"Ipsi":1.95},{"s":"NM","p":"4°","t":120,"Contra":2.1,"Ipsi":2.05},{"s":"NM","p":"4°","t":130,"Contra":1.6,"Ipsi":1.5},{"s":"NM","p":"4°","t":145,"Contra":0.0,"Ipsi":0.0},{"s":"NM","p":"4°","t":160,"Contra":-1.4,"Ipsi":-1.2},{"s":"NM","p":"4°","t":172,"Contra":-1.95,"Ipsi":-1.6},{"s":"NM","p":"4°","t":182,"Contra":-1.5,"Ipsi":-1.3},{"s":"NM","p":"4°","t":192,"Contra":-0.2,"Ipsi":-0.2},{"s":"NM","p":"4°","t":205,"Contra":1.3,"Ipsi":1.5},{"s":"NM","p":"4°","t":220,"Contra":2.7,"Ipsi":3.0},{"s":"NM","p":"4°","t":240,"Contra":3.9,"Ipsi":4.1},{"s":"NM","p":"4°","t":260,"Contra":5.0,"Ipsi":4.9},{"s":"NM","p":"4°","t":280,"Contra":5.6,"Ipsi":5.1},{"s":"NM","p":"4°","t":300,"Contra":5.95,"Ipsi":5.2},{"s":"NM","p":"4°","t":320,"Contra":6.05,"Ipsi":5.3},{"s":"NM","p":"4°","t":340,"Contra":6.1,"Ipsi":5.5},{"s":"NM","p":"4°","t":360,"Contra":6.0,"Ipsi":5.6},{"s":"NM","p":"4°","t":380,"Contra":5.85,"Ipsi":5.65},{"s":"NM","p":"4°","t":400,"Contra":5.75,"Ipsi":5.5},{"s":"NM","p":"4°","t":425,"Contra":5.1,"Ipsi":4.9},{"s":"NM","p":"4°","t":450,"Contra":4.3,"Ipsi":4.25},{"s":"NM","p":"4°","t":475,"Contra":3.85,"Ipsi":3.75},{"s":"NM","p":"4°","t":500,"Contra":3.45,"Ipsi":3.25},{"s":"NM","p":"4°","t":525,"Contra":2.8,"Ipsi":2.7},{"s":"NM","p":"4°","t":550,"Contra":2.3,"Ipsi":2.25},{"s":"NM","p":"4°","t":575,"Contra":1.95,"Ipsi":1.95},{"s":"NM","p":"4°","t":600,"Contra":1.6,"Ipsi":1.6},
{"s":"NM","p":"8°","t":-200,"Contra":0.1,"Ipsi":0.05,"Blue":0.15,"Red":0.1},{"s":"NM","p":"8°","t":-170,"Contra":0.05,"Ipsi":0.05,"Blue":0.05,"Red":0.1},{"s":"NM","p":"8°","t":-140,"Contra":0.05,"Ipsi":0.05,"Blue":0.0,"Red":0.0},{"s":"NM","p":"8°","t":-110,"Contra":0.1,"Ipsi":0.05,"Blue":0.05,"Red":0.05},{"s":"NM","p":"8°","t":-80,"Contra":0.0,"Ipsi":-0.15,"Blue":0.0,"Red":0.05},{"s":"NM","p":"8°","t":-50,"Contra":-0.1,"Ipsi":0.1,"Blue":0.25,"Red":0.1},{"s":"NM","p":"8°","t":-20,"Contra":0.05,"Ipsi":0.05,"Blue":0.15,"Red":0.05},{"s":"NM","p":"8°","t":0,"Contra":-0.05,"Ipsi":0.0,"Blue":0.0,"Red":0.0},{"s":"NM","p":"8°","t":25,"Contra":-0.15,"Ipsi":-0.05,"Blue":0.0,"Red":0.05},{"s":"NM","p":"8°","t":50,"Contra":-0.15,"Ipsi":-0.05,"Blue":0.05,"Red":0.05},{"s":"NM","p":"8°","t":65,"Contra":-0.1,"Ipsi":0.0,"Blue":0.05,"Red":0.05},{"s":"NM","p":"8°","t":80,"Contra":0.2,"Ipsi":0.4,"Blue":0.8,"Red":0.6},{"s":"NM","p":"8°","t":95,"Contra":1.2,"Ipsi":1.3,"Blue":2.4,"Red":2.0},{"s":"NM","p":"8°","t":110,"Contra":2.2,"Ipsi":2.3,"Blue":3.6,"Red":3.4},{"s":"NM","p":"8°","t":120,"Contra":2.5,"Ipsi":2.5,"Blue":3.4,"Red":3.75},{"s":"NM","p":"8°","t":130,"Contra":2.3,"Ipsi":2.2,"Blue":2.5,"Red":3.2},{"s":"NM","p":"8°","t":145,"Contra":0.8,"Ipsi":0.8,"Blue":0.6,"Red":1.0},{"s":"NM","p":"8°","t":160,"Contra":-0.8,"Ipsi":-0.7,"Blue":-0.9,"Red":-0.6},{"s":"NM","p":"8°","t":172,"Contra":-1.2,"Ipsi":-1.1,"Blue":-1.2,"Red":-1.3},{"s":"NM","p":"8°","t":182,"Contra":-1.1,"Ipsi":-0.9,"Blue":-0.3,"Red":-0.6},{"s":"NM","p":"8°","t":192,"Contra":0.3,"Ipsi":0.3,"Blue":1.2,"Red":0.7},{"s":"NM","p":"8°","t":205,"Contra":1.3,"Ipsi":1.4,"Blue":2.9,"Red":2.3},{"s":"NM","p":"8°","t":220,"Contra":2.6,"Ipsi":2.5,"Blue":4.5,"Red":3.9},{"s":"NM","p":"8°","t":240,"Contra":3.6,"Ipsi":3.5,"Blue":5.8,"Red":5.3},{"s":"NM","p":"8°","t":260,"Contra":4.4,"Ipsi":4.1,"Blue":6.35,"Red":5.9},{"s":"NM","p":"8°","t":280,"Contra":5.0,"Ipsi":4.5,"Blue":6.3,"Red":6.35},{"s":"NM","p":"8°","t":300,"Contra":5.5,"Ipsi":4.65,"Blue":5.95,"Red":6.4},{"s":"NM","p":"8°","t":320,"Contra":5.7,"Ipsi":4.95,"Blue":5.8,"Red":6.4},{"s":"NM","p":"8°","t":340,"Contra":5.95,"Ipsi":5.3,"Blue":5.95,"Red":6.55},{"s":"NM","p":"8°","t":360,"Contra":6.05,"Ipsi":5.4,"Blue":6.15,"Red":6.65},{"s":"NM","p":"8°","t":380,"Contra":5.85,"Ipsi":5.45,"Blue":5.85,"Red":6.45},{"s":"NM","p":"8°","t":400,"Contra":5.65,"Ipsi":5.5,"Blue":5.55,"Red":5.8},{"s":"NM","p":"8°","t":425,"Contra":5.35,"Ipsi":5.3,"Blue":5.15,"Red":5.35},{"s":"NM","p":"8°","t":450,"Contra":4.7,"Ipsi":4.65,"Blue":4.7,"Red":4.6},{"s":"NM","p":"8°","t":475,"Contra":4.1,"Ipsi":4.0,"Blue":3.75,"Red":4.0},{"s":"NM","p":"8°","t":500,"Contra":4.0,"Ipsi":3.85,"Blue":3.15,"Red":3.35},{"s":"NM","p":"8°","t":525,"Contra":3.75,"Ipsi":3.6,"Blue":2.95,"Red":2.95},{"s":"NM","p":"8°","t":550,"Contra":3.2,"Ipsi":3.15,"Blue":2.6,"Red":2.5},{"s":"NM","p":"8°","t":575,"Contra":2.75,"Ipsi":2.8,"Blue":2.2,"Red":2.05},{"s":"NM","p":"8°","t":600,"Contra":2.6,"Ipsi":2.6,"Blue":2.05,"Red":1.85}
]},
"transform": [
  {"fold": ["Ipsi", "Contra", "Blue", "Red"], "as": ["c", "v"]},
  {"filter": "isValid(datum.v)"}
],
"vconcat": [
  {
    "transform": [{"filter": "datum.s == 'M'"}],
    "title": {"text": "Magnified", "fontSize": 40, "fontWeight": "bold", "font": "Liberation Sans", "color": "#231f20", "anchor": "middle", "frame": "bounds", "dx": 18, "offset": 19},
    "columns": 3,
    "spacing": {"column": 50, "row": 28},
    "facet": {"field": "p", "type": "nominal", "sort": ["0°", "0.05°", "1°", "2°", "4°", "8°"],
      "header": {"title": null, "labelFontSize": 28, "labelFontWeight": "bold", "labelFont": "Liberation Sans", "labelColor": "#231f20", "labelPadding": 28}},
    "spec": {
      "width": 455, "height": 225,
      "mark": {"type": "line", "interpolate": "monotone", "strokeWidth": 2.5, "clip": false},
      "encoding": {
        "x": {"field": "t", "type": "quantitative", "scale": {"domain": [-200, 600], "range": [0, 416], "nice": false, "zero": false},
          "axis": {"orient": "bottom", "offset": -67.5, "title": null, "grid": false, "values": [-200, -100, 0, 100, 200, 300, 400, 500, 600],
            "labelExpr": "datum.value == -200 ? '-200 ms' : (datum.value == 200 || datum.value == 400 || datum.value == 600) ? ('' + datum.value) : ''",
            "labelFlush": false, "labelOverlap": false, "labelFontSize": 18, "labelFontWeight": "bold", "labelFont": "Liberation Sans", "labelColor": "#231f20",
            "labelPadding": 8, "tickSize": 5, "tickColor": "#231f20", "tickWidth": 1.2, "domainColor": "#231f20", "domainWidth": 1.2,
            "labelOffset": {"condition": {"test": "datum.value == -200", "value": 7}, "value": 0}}},
        "y": {"field": "v", "type": "quantitative", "scale": {"domain": [-3, 7], "nice": false, "zero": false},
          "axis": {"orient": "left", "offset": -104, "title": null, "grid": false,
            "values": [-3, -2.5, -2, -1.5, -1, -0.5, 0, 0.5, 1, 1.5, 2, 2.5, 3, 3.5, 4, 4.5, 5, 5.5, 6, 6.5, 7],
            "labelExpr": "datum.value == 7 ? '7 µV' : datum.value == -3 ? '-3 µV' : (datum.value == 6 || datum.value == 4 || datum.value == 2 || datum.value == -2) ? ('' + datum.value) : ''",
            "labelOverlap": false, "labelFontSize": 18, "labelFontWeight": "bold", "labelFont": "Liberation Sans", "labelColor": "#231f20",
            "labelPadding": 5, "tickSize": 4, "tickColor": "#231f20", "tickWidth": 1.2, "domainColor": "#231f20", "domainWidth": 1.2}},
        "color": {"field": "c", "type": "nominal", "scale": {"domain": ["Contra", "Ipsi", "Blue", "Red"], "range": ["#231f20", "#231f20", "#2e3192", "#ed1c24"]},
          "legend": {"values": ["Contra", "Ipsi"], "title": null, "orient": "none", "legendX": 1319, "legendY": 577, "labelFontSize": 33, "labelFont": "Liberation Sans", "labelColor": "#231f20", "symbolType": "stroke", "symbolSize": 1444, "symbolStrokeWidth": 2, "rowPadding": 0, "clipHeight": 22, "labelOffset": 6}},
        "strokeDash": {"field": "c", "type": "nominal", "scale": {"domain": ["Contra", "Ipsi", "Blue", "Red"], "range": [[1, 0], [5, 3], [12, 4, 2, 4], [12, 4, 2, 4]]},
          "legend": {"values": ["Contra", "Ipsi"], "title": null, "orient": "none", "legendX": 1319, "legendY": 577, "labelFontSize": 33, "labelFont": "Liberation Sans", "labelColor": "#231f20", "symbolType": "stroke", "symbolSize": 1444, "symbolStrokeWidth": 2, "rowPadding": 0, "clipHeight": 22, "labelOffset": 6}}
      }
    }
  },
  {
    "transform": [{"filter": "datum.s == 'NM'"}],
    "title": {"text": "Non-Magnified", "fontSize": 40, "fontWeight": "bold", "font": "Liberation Sans", "color": "#231f20", "anchor": "middle", "frame": "bounds", "dx": 18, "offset": 17},
    "columns": 3,
    "spacing": {"column": 50, "row": 28},
    "facet": {"field": "p", "type": "nominal", "sort": ["0°", "0.05°", "1°", "2°", "4°", "8°"],
      "header": {"title": null, "labelFontSize": 28, "labelFontWeight": "bold", "labelFont": "Liberation Sans", "labelColor": "#231f20", "labelPadding": 28}},
    "spec": {
      "width": 455, "height": 225,
      "mark": {"type": "line", "interpolate": "monotone", "strokeWidth": 2.5, "clip": false},
      "encoding": {
        "x": {"field": "t", "type": "quantitative", "scale": {"domain": [-200, 600], "range": [0, 416], "nice": false, "zero": false},
          "axis": {"orient": "bottom", "offset": -67.5, "title": null, "grid": false, "values": [-200, -100, 0, 100, 200, 300, 400, 500, 600],
            "labelExpr": "datum.value == -200 ? '-200 ms' : (datum.value == 200 || datum.value == 400 || datum.value == 600) ? ('' + datum.value) : ''",
            "labelFlush": false, "labelOverlap": false, "labelFontSize": 18, "labelFontWeight": "bold", "labelFont": "Liberation Sans", "labelColor": "#231f20",
            "labelPadding": 8, "tickSize": 5, "tickColor": "#231f20", "tickWidth": 1.2, "domainColor": "#231f20", "domainWidth": 1.2,
            "labelOffset": {"condition": {"test": "datum.value == -200", "value": 7}, "value": 0}}},
        "y": {"field": "v", "type": "quantitative", "scale": {"domain": [-3, 7], "nice": false, "zero": false},
          "axis": {"orient": "left", "offset": -104, "title": null, "grid": false,
            "values": [-3, -2.5, -2, -1.5, -1, -0.5, 0, 0.5, 1, 1.5, 2, 2.5, 3, 3.5, 4, 4.5, 5, 5.5, 6, 6.5, 7],
            "labelExpr": "datum.value == 7 ? '7 µV' : datum.value == -3 ? '-3 µV' : (datum.value == 6 || datum.value == 4 || datum.value == 2 || datum.value == -2) ? ('' + datum.value) : ''",
            "labelOverlap": false, "labelFontSize": 18, "labelFontWeight": "bold", "labelFont": "Liberation Sans", "labelColor": "#231f20",
            "labelPadding": 5, "tickSize": 4, "tickColor": "#231f20", "tickWidth": 1.2, "domainColor": "#231f20", "domainWidth": 1.2}},
        "color": {"field": "c", "type": "nominal", "scale": {"domain": ["Contra", "Ipsi", "Blue", "Red"], "range": ["#231f20", "#231f20", "#2e3192", "#ed1c24"]},
          "legend": {"values": ["Contra", "Ipsi"], "title": null, "orient": "none", "legendX": 1319, "legendY": 577, "labelFontSize": 33, "labelFont": "Liberation Sans", "labelColor": "#231f20", "symbolType": "stroke", "symbolSize": 1444, "symbolStrokeWidth": 2, "rowPadding": 0, "clipHeight": 22, "labelOffset": 6}},
        "strokeDash": {"field": "c", "type": "nominal", "scale": {"domain": ["Contra", "Ipsi", "Blue", "Red"], "range": [[1, 0], [5, 3], [12, 4, 2, 4], [12, 4, 2, 4]]},
          "legend": {"values": ["Contra", "Ipsi"], "title": null, "orient": "none", "legendX": 1319, "legendY": 577, "labelFontSize": 33, "labelFont": "Liberation Sans", "labelColor": "#231f20", "symbolType": "stroke", "symbolSize": 1444, "symbolStrokeWidth": 2, "rowPadding": 0, "clipHeight": 22, "labelOffset": 6}}
      }
    }
  }
]
}
